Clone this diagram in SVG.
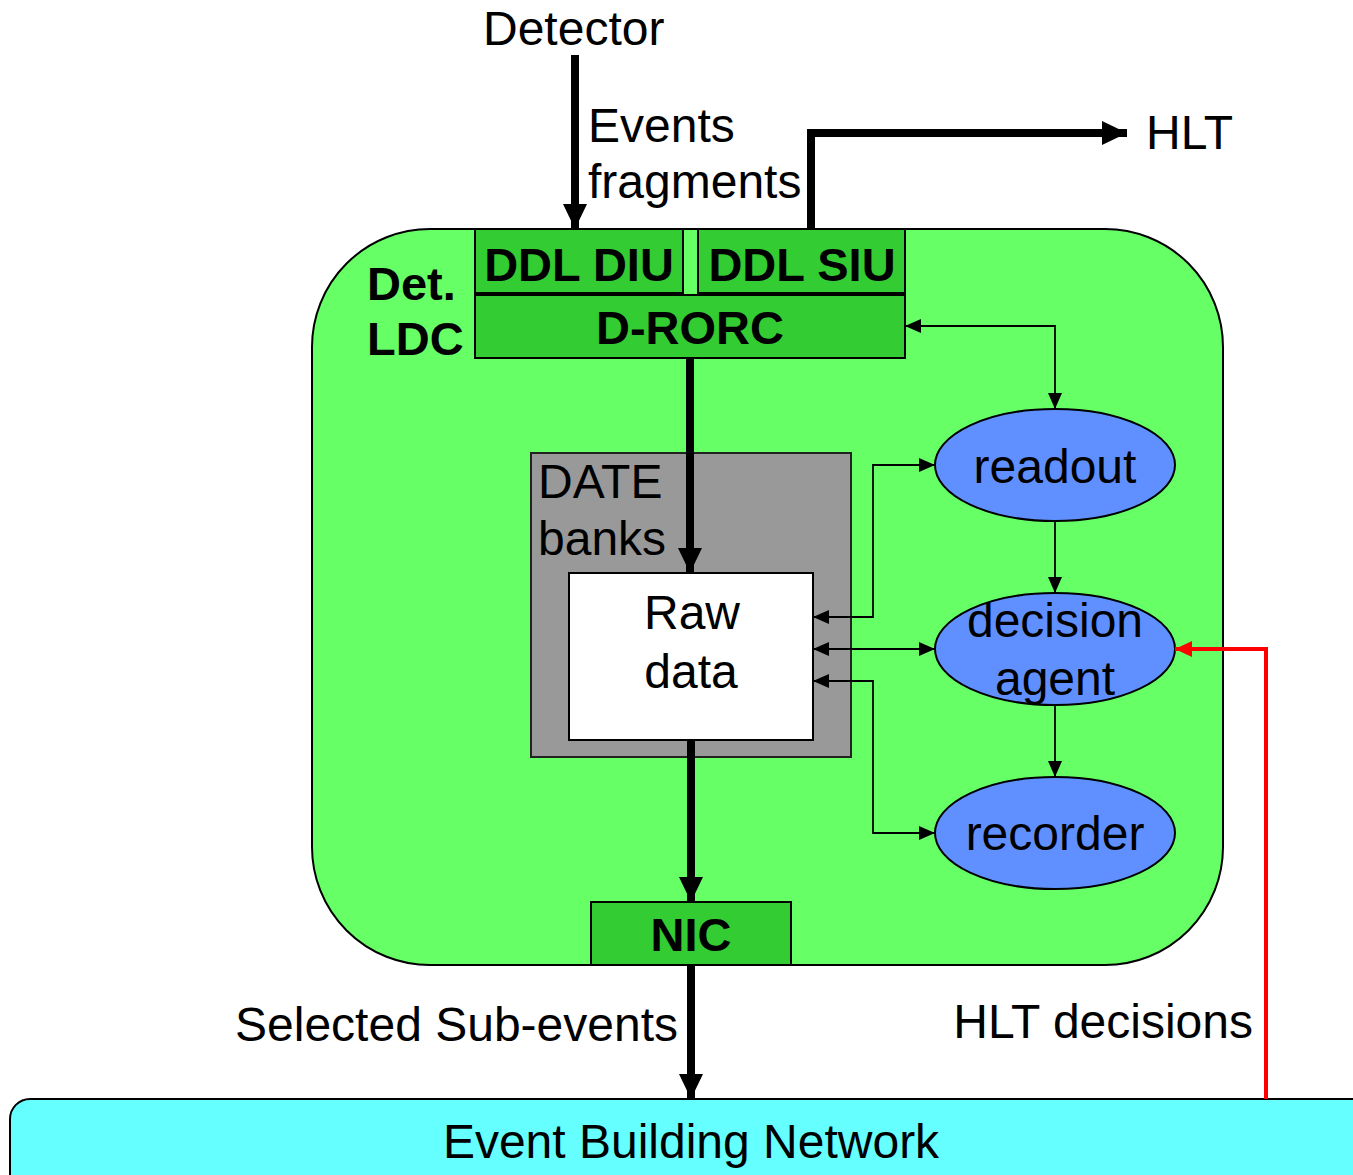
<svg xmlns="http://www.w3.org/2000/svg" width="1353" height="1175" viewBox="0 0 1353 1175">
  <style>
    text { font-family: "Liberation Sans", Arial, sans-serif; fill: #000; }
    .lbl { font-size: 48px; }
    .bold { font-size: 47px; font-weight: bold; }
    .mid { text-anchor: middle; }
    .card { fill: #33CC33; stroke: #000; stroke-width: 2; }
    .oval { fill: #6090FF; stroke: #000; stroke-width: 2; }
    .thick { fill: none; stroke: #000; stroke-width: 8; marker-end: url(#headThick); }
    .thin { fill: none; stroke: #000; stroke-width: 1.8; marker-end: url(#headThin); }
    .both { marker-start: url(#headThin); }
    .red { fill: none; stroke: #FF0000; stroke-width: 4; marker-end: url(#headRed); }
  </style>
  <defs>
    <marker id="headThick" markerUnits="userSpaceOnUse" markerWidth="26" markerHeight="26" refX="25" refY="12" orient="auto">
      <path d="M0,0 L25,12 L0,24 z" fill="#000"/>
    </marker>
    <marker id="headThin" markerUnits="userSpaceOnUse" markerWidth="17" markerHeight="15" refX="16" refY="7" orient="auto-start-reverse">
      <path d="M0,0 L16,7 L0,14 z" fill="#000"/>
    </marker>
    <marker id="headRed" markerUnits="userSpaceOnUse" markerWidth="18" markerHeight="17" refX="17" refY="8" orient="auto">
      <path d="M0,0 L17,8 L0,16 z" fill="#FF0000"/>
    </marker>
  </defs>

  <!-- Event building network strip -->
  <g id="ebn">
    <rect x="10" y="1099" width="1380" height="110" rx="20" ry="20" fill="#66FFFF" stroke="#000" stroke-width="2"/>
    <text class="lbl mid" x="691" y="1158">Event Building Network</text>
  </g>

  <!-- LDC host -->
  <g id="ldc">
    <rect x="312" y="229" width="911" height="736" rx="118" ry="118" fill="#66FF66" stroke="#000" stroke-width="2"/>
    <text class="bold" x="367" y="300">Det.</text>
    <text class="bold" x="367" y="355">LDC</text>
  </g>

  <g id="ddl-diu">
    <rect class="card" x="475" y="229" width="208" height="64"/>
    <text class="bold mid" x="579" y="281">DDL DIU</text>
  </g>
  <g id="ddl-siu">
    <rect class="card" x="698" y="229" width="207" height="64"/>
    <text class="bold mid" x="802" y="281">DDL SIU</text>
  </g>
  <g id="d-rorc">
    <rect class="card" x="475" y="295" width="430" height="63"/>
    <text class="bold mid" x="690" y="344">D-RORC</text>
  </g>

  <g id="date-banks">
    <rect x="531" y="453" width="320" height="304" fill="#999999" stroke="#222" stroke-width="2"/>
    <text class="lbl" x="538" y="498">DATE</text>
    <text class="lbl" x="538" y="555">banks</text>
  </g>
  <g id="raw-data">
    <rect x="569" y="573" width="244" height="167" fill="#FFFFFF" stroke="#000" stroke-width="2"/>
    <text class="lbl mid" x="692" y="629">Raw</text>
    <text class="lbl mid" x="691" y="688">data</text>
  </g>

  <g id="nic">
    <rect class="card" x="591" y="902" width="200" height="63"/>
    <text class="bold mid" x="691" y="951">NIC</text>
  </g>

  <g id="readout">
    <ellipse class="oval" cx="1055" cy="465" rx="120" ry="56"/>
    <text class="lbl mid" x="1055" y="483">readout</text>
  </g>
  <g id="decision-agent">
    <ellipse class="oval" cx="1055" cy="649" rx="120" ry="56"/>
    <text class="lbl mid" x="1055" y="637">decision</text>
    <text class="lbl mid" x="1055" y="695">agent</text>
  </g>
  <g id="recorder">
    <ellipse class="oval" cx="1055" cy="833" rx="120" ry="56"/>
    <text class="lbl mid" x="1055" y="850">recorder</text>
  </g>

  <!-- free labels -->
  <g id="labels">
    <text class="lbl" x="483" y="45">Detector</text>
    <text class="lbl" x="588" y="142">Events</text>
    <text class="lbl" x="588" y="198">fragments</text>
    <text class="lbl" x="1146" y="149">HLT</text>
    <text class="lbl" x="678" y="1041" text-anchor="end">Selected Sub-events</text>
    <text class="lbl" x="1253" y="1038" text-anchor="end">HLT decisions</text>
  </g>

  <!-- connectors -->
  <g id="connectors">
    <path class="thick" d="M575,55 V229"/>
    <path class="thick" d="M811,229 V133 H1127"/>
    <path class="thick" d="M690,358 V573"/>
    <path class="thick" d="M691,740 V902"/>
    <path class="thick" d="M691,965 V1099"/>
    <path class="thin both" d="M905,326 H1055 V409"/>
    <path class="thin" d="M1055,521 V593"/>
    <path class="thin" d="M1055,705 V777"/>
    <path class="thin both" d="M813,617 H873 V465 H935"/>
    <path class="thin both" d="M813,649 H935"/>
    <path class="thin both" d="M813,681 H873 V833 H935"/>
    <path class="red" d="M1266,1099 V649 H1175"/>
  </g>
</svg>
